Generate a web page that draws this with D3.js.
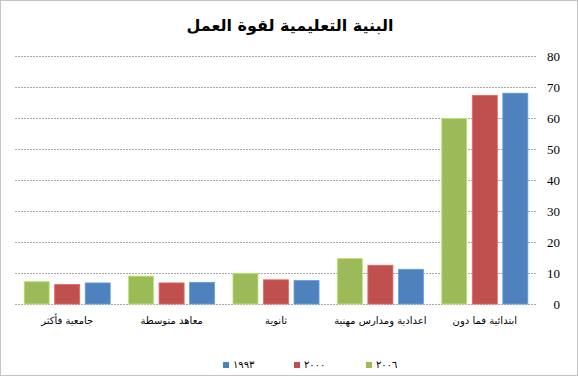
<!DOCTYPE html>
<html>
<head>
<meta charset="utf-8">
<script src="https://cdn.jsdelivr.net/npm/d3@7"></script>
<style>
  body { margin: 0; background: #fff; }
  svg { display: block; }
</style>
</head>
<body>
<div id="chart"></div>
<script>
// categories from right to left, as in the original (reversed axis)
var categories = ["ابتدائية فما دون", "اعدادية ومدارس مهنية", "ثانوية", "معاهد متوسطة", "جامعية فأكثر"];
var seriesNames = ["1993", "2000", "2006"];
var legendLabels = ["١٩٩٣", "٢٠٠٠", "٢٠٠٦"];
var values1993 = [68, 11.2, 7.6, 7.0, 6.8];
var values2000 = [67.3, 12.5, 7.8, 6.8, 6.3];
var values2006 = [59.8, 14.7, 9.9, 9.0, 7.2];
var yTicks = [0, 10, 20, 30, 40, 50, 60, 70, 80];

function init() {
    var w = 578;
    var h = 377;
    var colors = {"1993": "#4F81BD", "2000": "#C0504D", "2006": "#9BBB59"};
    var series = {"1993": values1993, "2000": values2000, "2006": values2006};

    var svg = d3.select("#chart")
                .append("svg")
                .attr("width", w)
                .attr("height", h);

    // outer dotted frame
    svg.append("rect")
        .attr("x", 0.5).attr("y", 0.5)
        .attr("width", w - 1).attr("height", h - 2)
        .attr("fill", "none")
        .attr("stroke", "#888")
        .attr("stroke-dasharray", "1,1");

    svg.append("text")
        .attr("x", 290)
        .attr("y", 31)
        .attr("text-anchor", "middle")
        .attr("font-family", "DejaVu Sans, sans-serif")
        .attr("font-weight", "bold")
        .attr("font-size", "16px")
        .text("البنية التعليمية لقوة العمل");

    var x = d3.scaleBand()
              .domain(categories.slice().reverse())
              .range([15, 537]);

    var x1 = d3.scaleBand()
               .domain(["2006", "2000", "1993"])
               .range([0, x.bandwidth()])
               .paddingInner(0.18)
               .paddingOuter(0.3);

    var y = d3.scaleLinear()
              .domain([0, 80])
              .range([304, 56]);

    // grid lines
    svg.append("g")
        .selectAll("line")
        .data(yTicks)
        .enter()
        .append("line")
        .attr("x1", 15)
        .attr("x2", 537)
        .attr("y1", function(d) { return Math.round(y(d)) + 0.5; })
        .attr("y2", function(d) { return Math.round(y(d)) + 0.5; })
        .attr("stroke", "#aaa")
        .attr("stroke-dasharray", "2,1");

    var groups = svg.selectAll("g.cat")
                    .data(categories)
                    .enter()
                    .append("g")
                    .attr("class", "cat")
                    .attr("transform", function(d) { return "translate(" + x(d) + ",0)"; });

    groups.selectAll("rect")
        .data(function(d, i) {
            return seriesNames.map(function(s) { return {s: s, v: series[s][i]}; });
        })
        .enter()
        .append("rect")
        .attr("x", function(d) { return x1(d.s); })
        .attr("width", x1.bandwidth())
        .attr("y", function(d) { return y(d.v); })
        .attr("height", function(d) { return y(0) - y(d.v); })
        .attr("fill", function(d) { return colors[d.s]; })
        .attr("stroke", function(d) { return d3.color(colors[d.s]).brighter(0.6); })
        .attr("stroke-width", 0.8);

    // right value axis
    var yAxis = d3.axisRight(y)
                  .tickValues(yTicks)
                  .tickSize(0)
                  .tickPadding(0);

    var ax = svg.append("g")
        .attr("transform", "translate(560,0)")
        .call(yAxis);
    ax.select(".domain").remove();
    ax.selectAll("text")
        .attr("text-anchor", "end")
        .attr("font-family", "Liberation Serif, serif")
        .attr("font-size", "13px")
        .attr("fill", "#000");

    // category labels
    var xAxis = d3.axisBottom(x).tickSize(0).tickPadding(0);
    var xa = svg.append("g")
        .attr("transform", "translate(0,317)")
        .call(xAxis);
    xa.select(".domain").remove();
    xa.selectAll("text")
        .attr("font-family", "DejaVu Sans, sans-serif")
        .attr("font-size", "10px")
        .attr("fill", "#000");

    // legend
    var legendX = [223, 294, 366];
    var legend = svg.selectAll("g.legend")
                    .data(seriesNames)
                    .enter()
                    .append("g")
                    .attr("class", "legend")
                    .attr("transform", function(d, i) { return "translate(" + legendX[i] + ",362)"; });
    legend.append("rect")
        .attr("width", 6).attr("height", 6)
        .attr("fill", function(d) { return colors[d]; });
    legend.append("text")
        .attr("x", 10)
        .attr("y", 6)
        .attr("font-family", "DejaVu Sans, sans-serif")
        .attr("font-size", "10px")
        .text(function(d, i) { return legendLabels[i]; });
}

window.onload = init;
</script>
</body>
</html>
